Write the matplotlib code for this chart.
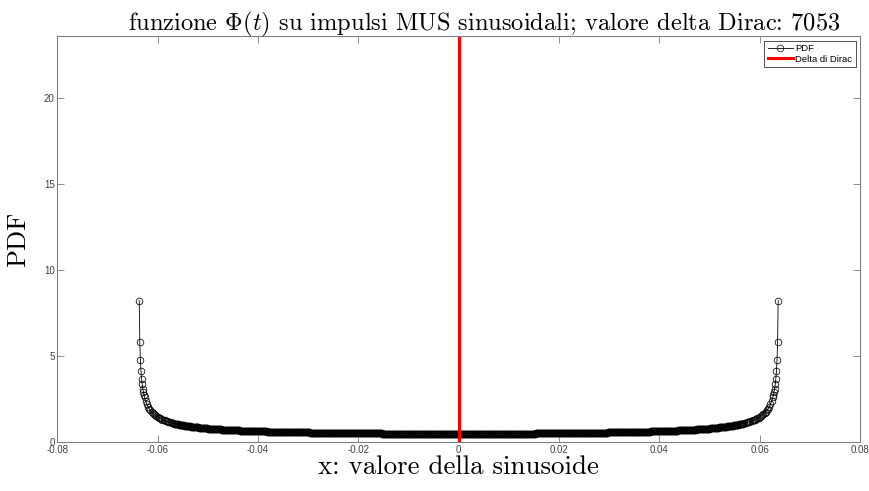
import numpy as np
import matplotlib
matplotlib.use("Agg")
import matplotlib.pyplot as plt

plt.rcParams["mathtext.fontset"] = "cm"
plt.rcParams["axes.unicode_minus"] = False

# sinusoid amplitude and number of bins from the edge to the centre
amp = 0.0638
n_half = 540

# bins sampled on the left half (1 = outermost bin, 540 = centre)
bins_half = list(range(1, 11)) + list(range(12, 61, 2)) + list(range(61, 541))

# PDF on the steep part, outermost bin first
pdf_edge = [8.22, 5.82, 4.75, 4.12, 3.68, 3.36, 3.12, 2.92, 2.75, 2.61,
            2.39, 2.21, 2.07, 1.95, 1.85, 1.77, 1.70, 1.63, 1.57, 1.52, 1.47, 1.43, 1.39,
            1.36, 1.32, 1.29, 1.27, 1.24, 1.21, 1.19, 1.17, 1.15, 1.13, 1.11, 1.09]

# PDF on the flat part as (value, number of consecutive bins), going to the centre
pdf_flat_runs = [
    (1.08, 2), (1.07, 1), (1.06, 1), (1.05, 1), (1.04, 2), (1.03, 1), (1.02, 2),
    (1.01, 1), (1.00, 2), (0.99, 1), (0.98, 2), (0.97, 2), (0.96, 1), (0.95, 2),
    (0.94, 2), (0.93, 2), (0.92, 2), (0.91, 2), (0.90, 3), (0.89, 2), (0.88, 2),
    (0.87, 3), (0.86, 2), (0.85, 3), (0.84, 3), (0.83, 3), (0.82, 3), (0.81, 3),
    (0.80, 4), (0.79, 3), (0.78, 4), (0.77, 4), (0.76, 4), (0.75, 4), (0.74, 5),
    (0.73, 5), (0.72, 5), (0.71, 5), (0.70, 5), (0.69, 6), (0.68, 7), (0.67, 7),
    (0.66, 7), (0.65, 7), (0.64, 9), (0.63, 9), (0.62, 9), (0.61, 11), (0.60, 11),
    (0.59, 12), (0.58, 14), (0.57, 15), (0.56, 17), (0.55, 20), (0.54, 22),
    (0.53, 28), (0.52, 35), (0.51, 54), (0.50, 76),
]

dirac_value = 7053

flat_vals = [v for v, _ in pdf_flat_runs]
flat_counts = [n for _, n in pdf_flat_runs]
pdf_half = np.concatenate([pdf_edge, np.repeat(flat_vals, flat_counts)])

x_half = -amp + np.array(bins_half) * amp / n_half
x = np.concatenate([x_half, -x_half[-2::-1]])
pdf = np.concatenate([pdf_half, pdf_half[-2::-1]])

fig = plt.figure(figsize=(8.69, 4.91), dpi=100)
ax = fig.add_axes([0.0660, 0.0992, 0.9237, 0.8268])

(pdf_line,) = ax.plot(x, pdf, color="black", lw=0.6, marker="o", markersize=4.8,
                      markerfacecolor="none", markeredgewidth=0.55, label="PDF")
pdf_line.set_snap(False)
ax.plot([0, 0], [0, dirac_value], color="red", lw=2.2, label="Delta di Dirac")

ax.set_xlim(-0.08, 0.08)
ax.set_ylim(0, 23.55)
xt = [-0.08, -0.06, -0.04, -0.02, 0, 0.02, 0.04, 0.06, 0.08]
ax.set_xticks(xt)
ax.set_xticklabels(["-0.08", "-0.06", "-0.04", "-0.02", "0", "0.02", "0.04", "0.06", "0.08"])
ax.set_yticks([0, 5, 10, 15, 20])

axis_grey = "#7f7f7f"
for s in ax.spines.values():
    s.set_color(axis_grey)
    s.set_linewidth(0.8)
ax.tick_params(direction="in", length=5, width=0.6, color=axis_grey,
               labelsize=7, labelcolor="#404040", top=True, right=True,
               pad=2)
for lab in ax.get_xticklabels() + ax.get_yticklabels():
    lab.set_fontfamily("Liberation Sans")

ax.set_title(r"funzione $\Phi(t)$ su impulsi MUS sinusoidali; valore delta Dirac: %d" % dirac_value,
             fontdict={"family": "cmr10", "size": 17.6}, pad=4, x=0.532)
ax.set_xlabel("x: valore della sinusoide", fontdict={"family": "cmr10", "size": 19.4},
              labelpad=0)
ax.set_ylabel("PDF", fontdict={"family": "cmr10", "size": 19}, labelpad=10)

leg = ax.legend(loc="upper right", prop={"family": "Liberation Sans", "size": 6.8},
                fancybox=False, framealpha=1, edgecolor="#333333",
                handlelength=2.7, borderpad=0.35, labelspacing=0.2,
                handletextpad=0.25, borderaxespad=0.45)
leg.get_frame().set_linewidth(0.6)
leg.get_lines()[0].set_markeredgewidth(0.5)

fig.savefig("out.png", dpi=100)
